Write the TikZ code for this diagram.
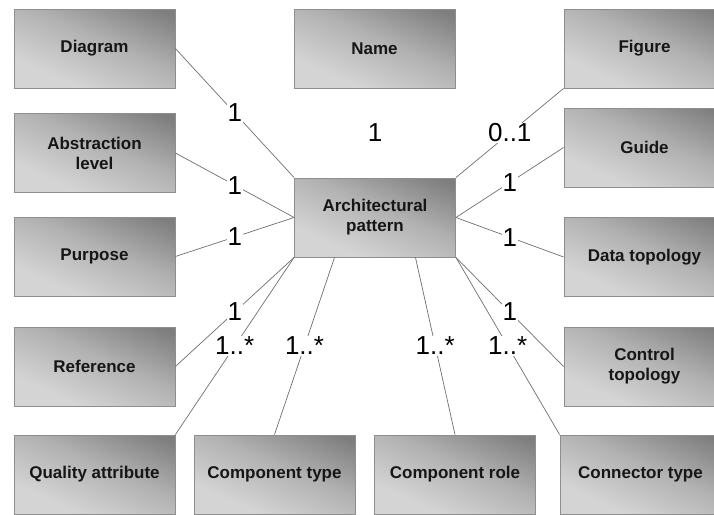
\documentclass[tikz,border=0pt]{standalone}
\usepackage{fontspec}
\setmainfont{Liberation Sans}
\usetikzlibrary{calc,positioning}
\definecolor{BoxDark}{HTML}{7E7E7E}
\definecolor{BoxLight}{HTML}{D4D4D4}
\definecolor{BoxRule}{HTML}{8E8E8E}
\definecolor{LinkGray}{HTML}{6E6E6E}
\definecolor{BoxText}{HTML}{161616}
\pgfdeclareverticalshading{boxshade}{100bp}{color(0bp)=(BoxLight); color(30bp)=(BoxLight); color(55bp)=(BoxLight!60!BoxDark); color(80bp)=(BoxDark); color(100bp)=(BoxDark)}

\begin{document}
\begin{tikzpicture}[
        x=1pt,y=-1pt,
        box/.style={draw=BoxRule,line width=0.8pt,shading=boxshade,shading angle=-24,minimum width=161pt,minimum height=79pt,inner sep=0pt,align=center,text=BoxText,font=\fontsize{17}{20}\selectfont\bfseries},
        link/.style={draw=LinkGray,line width=0.7pt},
        mult/.style={fill=white,inner sep=1pt,text=black,font=\fontsize{26}{28}\selectfont}
      ]
        \clip (0,0) rectangle (714,514);
        % top row
        \node[box] (diagram) at (94.5,48.5) {Diagram};
        \node[box] (name) at (374.5,48.5) {Name};
        \node[box] (figure) at (644.5,48.5) {Figure};
        % left column
        \node[box] (abstraction) at (94.5,153) {Abstraction\\level};
        \node[box] (purpose) at (94.5,256.5) {Purpose};
        \node[box] (reference) at (94.5,366.5) {Reference};
        % right column
        \node[box] (guide) at (644.5,147.5) {Guide};
        \node[box] (datatopo) at (644.5,257) {Data topology};
        \node[box] (controltopo) at (644.5,366.5) {Control\\topology};
        % bottom row
        \node[box] (quality) at (94.5,474.5) {Quality attribute};
        \node[box] (comptype) at (274.5,474.5) {Component type};
        \node[box] (comprole) at (455,474.5) {Component role};
        \node[box] (conntype) at (640.5,474.5) {Connector type};
        % centre
        \node[box] (pattern) at (375,217.5) {Architectural\\pattern};
        \coordinate (patternA) at ($(pattern.south west)!0.25!(pattern.south east)$);
        \coordinate (patternB) at ($(pattern.south west)!0.75!(pattern.south east)$);

        \node[mult] (namemult) at (375,133) {1};
        \draw[link] (diagram.east) -- node[mult] {1} (pattern.north west);
        \draw[link] (abstraction.east) -- node[mult] {1} (pattern.west);
        \draw[link] (purpose.east) -- node[mult] {1} (pattern.west);
        \draw[link] (reference.east) -- node[mult] {1} (pattern.south west);
        \draw[link] (quality.north east) -- node[mult] {1..*} (pattern.south west);
        \draw[link] (comptype.north) -- node[mult] {1..*} (patternA);
        \draw[link] (comprole.north) -- node[mult] {1..*} (patternB);
        \draw[link] (conntype.north west) -- node[mult] {1..*} (pattern.south east);
        \draw[link] (controltopo.west) -- node[mult] {1} (pattern.south east);
        \draw[link] (datatopo.west) -- node[mult] {1} (pattern.east);
        \draw[link] (guide.west) -- node[mult] {1} (pattern.east);
        \draw[link] (figure.south west) -- node[mult] {0..1} (pattern.north east);
      \end{tikzpicture}
\end{document}
